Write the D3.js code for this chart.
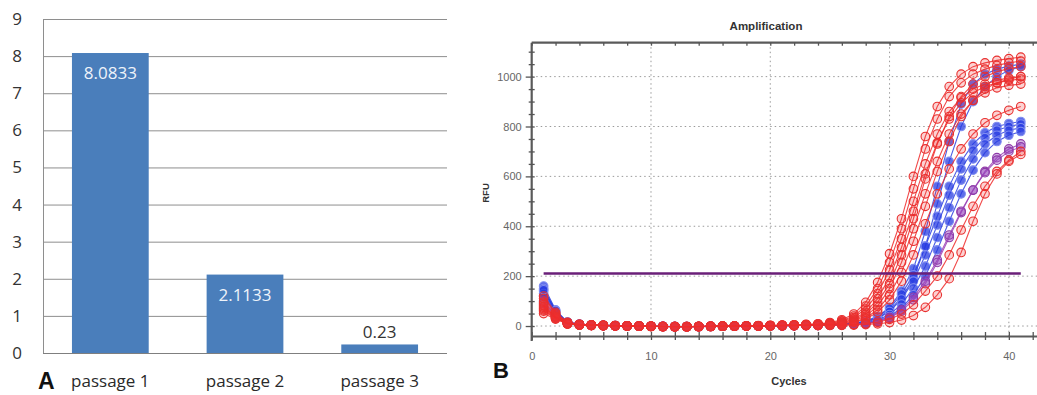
<!DOCTYPE html>
<html>
<head>
<meta charset="utf-8">
<script src="https://cdn.jsdelivr.net/npm/d3@7"></script>
<style>
  body { margin: 0; background: #fff; }
  svg { display: block; }
</style>
</head>
<body>
<div id="chart"></div>
<script>
// panel A - fold values per passage
const passages = ["passage 1", "passage 2", "passage 3"];
const foldValues = [8.0833, 2.1133, 0.23];
const foldTicks = [0, 1, 2, 3, 4, 5, 6, 7, 8, 9];

// panel B - amplification runs, RFU per cycle (cycles 1..41)
const cycles = [1,2,3,4,5,6,7,8,9,10,11,12,13,14,15,16,17,18,19,20,21,22,23,24,25,26,27,28,29,30,31,32,33,34,35,36,37,38,39,40,41];
const blueRuns = [
  [160,65,16,7,4,3,2,1,0,-1,-2,-2,-3,-2,-2,-1,-1,0,0,1,1,2,3,4,5,7,11,20,38,75,140,230,380,560,740,890,970,1010,1030,1042,1050],
  [140,58,14,6,4,2,1,1,0,-1,-2,-3,-3,-2,-2,-1,0,0,1,1,2,2,3,4,5,6,10,17,32,62,115,190,320,490,660,800,900,960,1000,1025,1040],
  [150,60,15,7,4,3,2,1,0,-1,-2,-2,-2,-2,-1,-1,0,0,1,1,2,3,3,4,5,7,11,19,36,70,128,205,320,440,560,660,730,775,800,812,820],
  [130,55,13,6,3,2,1,0,0,-1,-2,-3,-3,-3,-2,-1,-1,0,0,1,1,2,3,3,4,6,9,16,30,58,108,180,285,405,525,630,705,755,785,800,810],
  [120,50,12,5,3,2,1,0,-1,-1,-2,-2,-3,-2,-2,-1,0,0,0,1,1,2,2,3,4,5,8,13,24,46,88,152,240,355,475,585,670,730,765,785,795],
  [145,62,15,7,4,3,2,1,0,-1,-1,-2,-2,-2,-1,-1,0,0,1,1,2,2,3,3,4,5,7,11,20,38,72,125,200,305,420,530,625,695,740,765,780]
];
const purpleRuns = [
  [100,48,12,6,3,2,1,0,0,-1,-2,-2,-2,-2,-1,-1,0,0,0,1,1,2,2,3,4,5,7,10,17,32,60,105,170,255,355,455,545,620,675,710,730],
  [90,42,12,6,4,2,1,1,0,-1,-1,-2,-2,-2,-1,-1,0,0,1,1,1,2,3,3,4,5,7,11,19,35,65,115,180,265,365,460,545,615,665,700,718]
];
const redRuns = [
  [95,45,12,6,4,3,2,1,0,-1,-2,-2,-2,-1,-1,0,0,1,2,3,4,5,7,9,14,25,48,95,175,290,430,600,760,880,960,1010,1040,1055,1065,1072,1078],
  [70,35,10,5,3,2,1,0,0,-2,-2,-3,-2,-2,-1,-1,0,1,1,2,3,4,6,8,12,21,40,80,150,255,390,550,710,830,920,975,1010,1030,1045,1055,1062],
  [110,50,14,7,4,3,2,1,0,-1,-2,-2,-3,-2,-1,-1,0,0,1,2,3,4,5,7,11,18,34,68,130,225,350,500,650,770,860,915,950,970,985,995,1000],
  [60,30,9,4,3,2,1,0,-1,-2,-3,-3,-3,-2,-2,-1,0,0,1,1,2,3,4,6,9,15,28,55,110,195,315,460,610,735,830,895,935,960,975,985,990],
  [85,40,11,5,4,2,1,1,0,-1,-2,-2,-2,-2,-1,-1,0,0,1,2,2,3,4,5,8,13,24,47,95,170,285,430,590,730,840,920,970,1000,1020,1032,1040],
  [120,55,15,7,5,3,2,1,0,-1,-2,-3,-3,-2,-2,-1,-1,0,1,1,2,3,4,5,7,11,20,40,80,150,255,390,530,660,770,850,905,935,955,965,970],
  [50,28,8,4,2,1,1,0,-1,-2,-2,-3,-3,-3,-2,-1,-1,0,0,1,2,2,3,4,6,9,16,32,65,125,215,340,480,620,740,840,905,950,975,990,1000],
  [75,38,10,5,3,2,1,0,0,-1,-2,-2,-3,-2,-2,-1,0,0,1,1,2,3,4,5,6,9,15,28,55,105,180,285,410,530,630,710,770,815,845,865,880],
  [65,32,9,4,3,2,1,0,-1,-1,-2,-2,-3,-2,-2,-1,-1,0,0,1,1,2,2,3,3,4,6,9,15,27,48,85,140,200,285,385,480,560,620,665,700],
  [80,36,10,5,3,2,1,0,0,-1,-2,-2,-2,-2,-1,-1,0,0,0,1,1,1,2,2,3,3,4,6,9,14,24,42,75,125,190,295,420,530,610,660,688]
];
const thresholdRFU = 211;
const thresholdCycles = [1, 41];
const cycleLabels = [0, 10, 20, 30, 40];
const rfuLabels = [0, 200, 400, 600, 800, 1000];

const width = 1037, height = 395;
const svg = d3.select("#chart").append("svg").attr("width", width).attr("height", height);

// ---------- panel A ----------
const xA = d3.scaleBand().domain(passages).range([43, 447]).paddingInner(0.43).paddingOuter(0.215);
const yA = d3.scaleLinear().domain([0, 9]).range([353, 19]);
const fontA = "'Open Sans', 'Liberation Sans', sans-serif";

svg.append("g").selectAll("line").data(foldTicks).enter().append("line")
  .attr("x1", 43).attr("x2", 447)
  .attr("y1", d => yA(d) + 0.5).attr("y2", d => yA(d) + 0.5)
  .attr("stroke", d => d === 0 ? "#7f7f7f" : "#8e8e8e").attr("stroke-width", 1);
svg.append("line").attr("x1", 43.5).attr("x2", 43.5).attr("y1", yA(9)).attr("y2", yA(0))
  .attr("stroke", "#8e8e8e");

svg.append("g").selectAll("text").data(foldTicks).enter().append("text")
  .attr("x", 22).attr("y", d => yA(d) + 6)
  .attr("text-anchor", "end").attr("font-family", fontA).attr("font-size", 17)
  .attr("fill", "#333").text(d => d);

svg.append("g").selectAll("rect").data(foldValues).enter().append("rect")
  .attr("x", (d, i) => xA(passages[i])).attr("width", xA.bandwidth())
  .attr("y", d => yA(d)).attr("height", d => yA(0) - yA(d))
  .attr("fill", "#4a7ebb");

svg.append("g").selectAll("text").data(foldValues).enter().append("text")
  .attr("x", (d, i) => xA(passages[i]) + xA.bandwidth() / 2)
  .attr("y", d => d > 1 ? yA(d) + 26 : yA(d) - 6)
  .attr("text-anchor", "middle").attr("font-family", fontA).attr("font-size", 17)
  .attr("fill", d => d > 1 ? "#eef3fa" : "#333").text(d => d);

svg.append("g").selectAll("text").data(passages).enter().append("text")
  .attr("x", d => xA(d) + xA.bandwidth() / 2).attr("y", 387)
  .attr("text-anchor", "middle").attr("font-family", fontA).attr("font-size", 17)
  .attr("fill", "#2a2a2a").text(d => d);

svg.append("text").attr("x", 38).attr("y", 389)
  .attr("font-family", "'Liberation Sans', Arial, sans-serif").attr("font-weight", "bold")
  .attr("font-size", 23).attr("fill", "#111").text("A");

// ---------- panel B ----------
const x = d3.scaleLinear().domain([0, 42.36]).range([531.7, 1037]);
const y = d3.scaleLinear().domain([-40, 1136]).range([336, 42.7]);
const fontB = "'Liberation Sans', Arial, sans-serif";
const evenCycles = d3.range(0, 43, 2);
const minorRFU = d3.range(0, 1101, 50);

// dotted grid
svg.append("g").selectAll("line").data(rfuLabels).enter().append("line")
  .attr("x1", x(0)).attr("x2", width).attr("y1", d => y(d)).attr("y2", d => y(d))
  .attr("stroke", "#9a9a9a").attr("stroke-dasharray", "1.5,3");
svg.append("g").selectAll("line").data(cycleLabels.slice(1)).enter().append("line")
  .attr("x1", d => x(d)).attr("x2", d => x(d)).attr("y1", y(1136)).attr("y2", y(-40))
  .attr("stroke", "#9a9a9a").attr("stroke-dasharray", "1.5,3");

// axes
const bottomAxis = svg.append("g").attr("transform", "translate(0," + y(-40) + ")")
  .call(d3.axisBottom(x).tickValues(evenCycles).tickSizeInner(4).tickSizeOuter(0).tickPadding(12)
    .tickFormat(d => d % 10 === 0 ? d : ""));
bottomAxis.selectAll(".tick line").attr("y1", -4);
const leftAxis = svg.append("g").attr("transform", "translate(" + x(0) + ",0)")
  .call(d3.axisLeft(y).tickValues(minorRFU).tickSizeInner(3).tickSizeOuter(0).tickPadding(7)
    .tickFormat(d => d % 200 === 0 ? d : ""));
leftAxis.selectAll(".tick line").attr("x1", 3).attr("x2", d => d % 200 === 0 ? -6 : -3);
const topAxis = svg.append("g").attr("transform", "translate(0," + y(1136) + ")")
  .call(d3.axisTop(x).tickValues(evenCycles).tickSizeInner(-3).tickSizeOuter(0).tickFormat(""));

[bottomAxis, leftAxis, topAxis].forEach(g => {
  g.select(".domain").attr("stroke", "#5a5a5a").attr("stroke-width", 2.2);
  g.selectAll(".tick line").attr("stroke", "#555").attr("stroke-width", 1.3);
  g.selectAll(".tick text").attr("font-family", fontB).attr("font-size", 11).attr("fill", "#666");
});
topAxis.select(".domain").attr("d", "M" + x(0) + ",0H" + width);
leftAxis.select(".domain").attr("d", "M0," + y(1136) + "V" + (y(-40) + 5));

// runs
const line = d3.line().x((d, i) => x(cycles[i])).y(d => y(d));
function drawRuns(runs, stroke, dotFill, dotStroke) {
  const g = svg.append("g");
  runs.forEach(run => {
    g.append("path").datum(run).attr("d", line)
      .attr("fill", "none").attr("stroke", stroke).attr("stroke-width", 1.1).attr("stroke-opacity", 0.85);
    g.selectAll(null).data(run).enter().append("circle")
      .attr("cx", (d, i) => x(cycles[i])).attr("cy", d => y(d)).attr("r", 4.3)
      .attr("fill", dotFill).attr("stroke", dotStroke).attr("stroke-width", 1.1);
  });
}
drawRuns(blueRuns, "#2c3fe0", "rgba(40,60,225,0.75)", "#7f8cf0");
drawRuns(purpleRuns, "#9b3fb5", "rgba(150,70,190,0.4)", "#8e3aa8");
drawRuns(redRuns, "#ee2a2a", "rgba(240,50,50,0.22)", "#e8302f");

// threshold
svg.append("line")
  .attr("x1", x(thresholdCycles[0])).attr("x2", x(thresholdCycles[1]))
  .attr("y1", y(thresholdRFU)).attr("y2", y(thresholdRFU))
  .attr("stroke", "#6a1f78").attr("stroke-width", 2.5);

// titles
svg.append("text").attr("x", 766).attr("y", 30).attr("text-anchor", "middle")
  .attr("font-family", fontB).attr("font-weight", "bold").attr("font-size", 11.5)
  .attr("fill", "#333").text("Amplification");
svg.append("text").attr("x", 789).attr("y", 385).attr("text-anchor", "middle")
  .attr("font-family", fontB).attr("font-weight", "bold").attr("font-size", 11)
  .attr("fill", "#333").text("Cycles");
svg.append("text").attr("transform", "translate(489,193) rotate(-90)").attr("text-anchor", "middle")
  .attr("font-family", fontB).attr("font-weight", "bold").attr("font-size", 9.5)
  .attr("fill", "#333").text("RFU");
svg.append("text").attr("x", 493).attr("y", 378)
  .attr("font-family", fontB).attr("font-weight", "bold")
  .attr("font-size", 22).attr("fill", "#111").text("B");
</script>
</body>
</html>
